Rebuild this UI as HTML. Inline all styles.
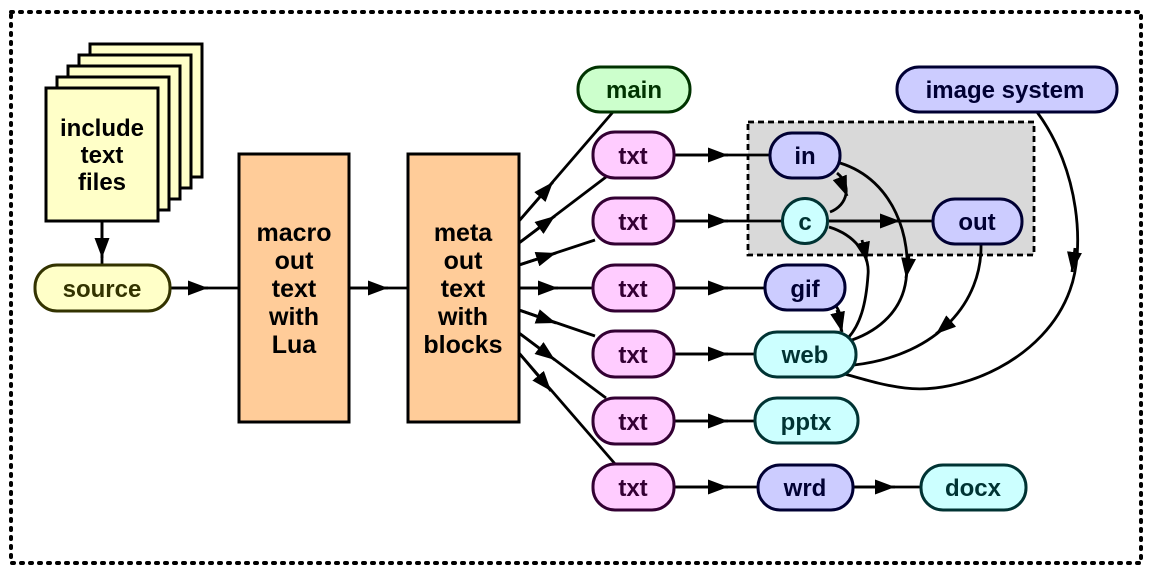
<!DOCTYPE html>
<html><head><meta charset="utf-8"><style>
html,body{margin:0;padding:0;background:#fff;}
svg{display:block;}
text{font-family:"Liberation Sans",Arial,sans-serif;font-weight:bold;text-anchor:middle;}
</style></head><body>
<svg width="1152" height="576" viewBox="0 0 1152 576" xmlns="http://www.w3.org/2000/svg">
<defs>
<marker id="a" viewBox="0 0 20 15" refX="20" refY="7.5" markerWidth="20" markerHeight="15" markerUnits="userSpaceOnUse" orient="auto"><path d="M0,0 L20,7.5 L0,15 z" fill="#000"/></marker>
</defs>
<rect x="11" y="12" width="1130" height="551" fill="none" stroke="#000" stroke-width="4" stroke-dasharray="2,7" stroke-linecap="round"/>
<rect x="748" y="122" width="286" height="133" fill="#d9d9d9" stroke="#000" stroke-width="2.8" stroke-dasharray="6,4"/>

<g fill="#ffffc8" stroke="#000" stroke-width="3">
<rect x="90" y="44" width="112" height="133"/>
<rect x="79" y="55" width="112" height="133"/>
<rect x="68" y="66" width="112" height="133"/>
<rect x="57" y="77" width="112" height="133"/>
<rect x="46" y="88" width="112" height="133"/>
</g>
<g font-size="24" fill="#000"><text x="102" y="136">include</text><text x="102" y="163">text</text><text x="102" y="190">files</text></g>

<g stroke="#000" stroke-width="2.8" fill="none">
<line x1="102" y1="222" x2="102" y2="265"/><path d="M102,222 L102,258" marker-end="url(#a)"/>
<line x1="170" y1="288" x2="239" y2="288"/><path d="M170,288 L208,288" marker-end="url(#a)"/>
<line x1="349" y1="288" x2="408" y2="288"/><path d="M349,288 L388,288" marker-end="url(#a)"/>
<line x1="519" y1="221" x2="613" y2="112"/><path d="M519,221 L553,182" marker-end="url(#a)"/>
<line x1="519" y1="243" x2="606" y2="177"/><path d="M519,243 L555,216" marker-end="url(#a)"/>
<line x1="519" y1="265" x2="595" y2="240"/><path d="M519,265 L556,253" marker-end="url(#a)"/>
<line x1="519" y1="288" x2="593" y2="288"/><path d="M519,288 L558,288" marker-end="url(#a)"/>
<line x1="519" y1="310" x2="595" y2="336"/><path d="M519,310 L556,323" marker-end="url(#a)"/>
<line x1="519" y1="333" x2="606" y2="398"/><path d="M519,333 L555,360" marker-end="url(#a)"/>
<line x1="519" y1="353" x2="616" y2="465"/><path d="M519,353 L551,391" marker-end="url(#a)"/>
<line x1="674" y1="155" x2="770" y2="155"/><path d="M674,155 L728,155" marker-end="url(#a)"/>
<line x1="674" y1="221" x2="782" y2="221"/><path d="M674,221 L728,221" marker-end="url(#a)"/>
<line x1="674" y1="288" x2="765" y2="288"/><path d="M674,288 L728,288" marker-end="url(#a)"/>
<line x1="674" y1="354" x2="755" y2="354"/><path d="M674,354 L728,354" marker-end="url(#a)"/>
<line x1="674" y1="421" x2="755" y2="421"/><path d="M674,421 L728,421" marker-end="url(#a)"/>
<line x1="674" y1="487" x2="758" y2="487"/><path d="M674,487 L728,487" marker-end="url(#a)"/>
<line x1="853" y1="487" x2="921" y2="487"/><path d="M853,487 L895,487" marker-end="url(#a)"/>
<line x1="829" y1="221" x2="933" y2="221"/><path d="M829,221 L900,221" marker-end="url(#a)"/>
<path d="M837,173 C852,185 848,205 830,212"/><path d="M840,178 L847,196" marker-end="url(#a)"/>
<path d="M840,163 C895,180 912,240 906,280 C902,310 880,330 852,340"/><path d="M909,255 L906,278" marker-end="url(#a)"/>
<path d="M829,227 C855,235 870,255 868,275 C866,305 860,325 848,338"/><path d="M862,240 L867,262" marker-end="url(#a)"/>
<path d="M836,306 C842,315 842,322 841,331"/><path d="M837,310 L842,332" marker-end="url(#a)"/>
<path d="M981,245 C982,300 940,355 854,365"/><path d="M950,322 L936,334" marker-end="url(#a)"/>
<path d="M1037,112 C1080,170 1085,250 1070,290 C1045,360 960,395 905,388 C880,385 860,378 841,373"/><path d="M1075,248 L1072,272" marker-end="url(#a)"/>
</g>

<g stroke="#000" stroke-width="3" fill="#ffcc99">
<rect x="239" y="154" width="110" height="268"/>
<rect x="408" y="154" width="111" height="268"/>
</g>
<g font-size="25" fill="#000">
<text x="294" y="241">macro</text><text x="294" y="269">out</text><text x="294" y="297">text</text><text x="294" y="325">with</text><text x="294" y="353">Lua</text>
<text x="463" y="241">meta</text><text x="463" y="269">out</text><text x="463" y="297">text</text><text x="463" y="325">with</text><text x="463" y="353">blocks</text>
</g>

<g stroke-width="3" font-size="24">
<rect x="35" y="265" width="135" height="46" rx="22" fill="#ffffc8" stroke="#333300"/><text x="102" y="297" fill="#333300" stroke="none">source</text>
<rect x="578" y="67" width="112" height="45" rx="22" fill="#ccffcc" stroke="#003300"/><text x="634" y="98" fill="#003300" stroke="none">main</text>
<g fill="#ffccff" stroke="#330033">
<rect x="593" y="132" width="81" height="46" rx="22"/>
<rect x="593" y="198" width="81" height="46" rx="22"/>
<rect x="593" y="265" width="81" height="46" rx="22"/>
<rect x="593" y="331" width="81" height="46" rx="22"/>
<rect x="593" y="398" width="81" height="46" rx="22"/>
<rect x="593" y="464" width="81" height="46" rx="22"/>
</g>
<g fill="#330033"><text x="633" y="164">txt</text><text x="633" y="230">txt</text><text x="633" y="297">txt</text><text x="633" y="363">txt</text><text x="633" y="430">txt</text><text x="633" y="496">txt</text></g>
<g fill="#ccccff" stroke="#000033">
<rect x="770" y="133" width="70" height="45" rx="22"/>
<rect x="933" y="199" width="89" height="45" rx="22"/>
<rect x="765" y="265" width="80" height="45" rx="22"/>
<rect x="758" y="465" width="95" height="45" rx="22"/>
<rect x="897" y="67" width="220" height="45" rx="22"/>
</g>
<g fill="#000033"><text x="805" y="164">in</text><text x="977" y="230">out</text><text x="805" y="297">gif</text><text x="805" y="496">wrd</text><text x="1005" y="98">image system</text></g>
<g fill="#ccffff" stroke="#003333">
<circle cx="805" cy="221" r="22.5"/>
<rect x="755" y="332" width="101" height="45" rx="22"/>
<rect x="755" y="398" width="103" height="45" rx="22"/>
<rect x="921" y="465" width="105" height="45" rx="22"/>
</g>
<g fill="#003333"><text x="805" y="230">c</text><text x="805" y="363">web</text><text x="806" y="430">pptx</text><text x="973" y="496">docx</text></g>
</g>
</svg>
</body></html>
